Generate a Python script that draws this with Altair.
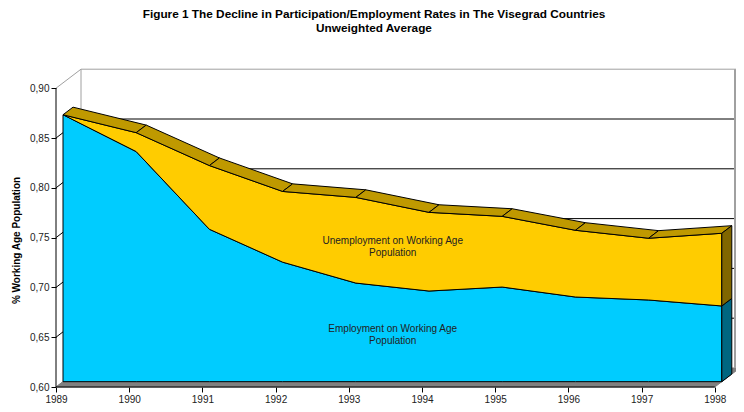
import altair as alt
import pandas as pd

years = [1989, 1990, 1991, 1992, 1993, 1994, 1995, 1996, 1997, 1998]
total_rate = [0.868, 0.850, 0.817, 0.791, 0.785, 0.770, 0.766, 0.752, 0.744, 0.749]
employment_rate = [0.868, 0.831, 0.753, 0.720, 0.699, 0.691, 0.695, 0.685, 0.682, 0.676]
y_ticks = [0.60, 0.65, 0.70, 0.75, 0.80, 0.85, 0.90]
title_lines = ["Figure 1 The Decline in Participation/Employment Rates in The Visegrad Countries",
               "Unweighted Average"]
unemp_label = ["Unemployment on Working Age", "Population"]
emp_label = ["Employment on Working Age", "Population"]

# oblique projection of the pseudo-3D box, in data units
PX_X = 73.2
PX_Y = 996.0
DX = 25 / PX_X
DY = 19 / PX_Y
D0, D1 = 0.28, 0.68
W, H = 680, 318
XMAX = 1989 + W / PX_X
YMAX = 0.60 + H / PX_Y
WALL_X = 1989 + (W - 1) / PX_X
Xs = alt.Scale(domain=[1989, XMAX], nice=False, zero=False)
Ys = alt.Scale(domain=[0.60, YMAX], nice=False, zero=False)

X_AXIS = alt.Axis(
    values=years, format="d", title=None, domain=False, grid=False, tickColor="black",
    tickSize=5, labelPadding=2, labelFontSize=10, labelFont="Liberation Sans", labelColor="#222222",
    labelOverlap=False, labelBound=False, labelFlush=False)
Y_AXIS = alt.Axis(
    values=y_ticks, title="% Working Age Population", domain=False, grid=False, tickColor="black",
    tickSize=5, labelPadding=2, labelFontSize=10, labelFont="Liberation Sans", labelColor="#222222",
    labelExpr="replace(format(datum.value,'.2f'),'.',',')", labelOverlap=False, labelBound=False,
    titleFont="Liberation Sans", titleFontSize=10, titleFontWeight="bold", titleColor="black",
    titleX=-35, titleY=171)


def p(x, y, d=0.0):
    return (x + d * DX, y + d * DY)


def enc():
    return dict(x=alt.X("x:Q", scale=Xs, axis=X_AXIS), y=alt.Y("y:Q", scale=Ys, axis=Y_AXIS),
                order="o:Q", detail="g:N")


def frame(polys):
    rows = []
    for g, pts in enumerate(polys):
        for o, (x, y) in enumerate(pts):
            rows.append({"x": x, "y": y, "o": o, "g": g})
    return pd.DataFrame(rows)


def closed(pts):
    return pts + [pts[0]]


def fill_layer(polys, fill, stroke=None, sw=1.0):
    kw = dict(fill=fill, strokeWidth=sw, clip=False)
    kw["stroke"] = stroke if stroke else fill
    return alt.Chart(frame([closed(q) for q in polys])).mark_line(**kw).encode(**enc())


def line_layer(polys, color, sw=1.0):
    return alt.Chart(frame(polys)).mark_line(color=color, strokeWidth=sw, clip=False).encode(**enc())


x0, x1 = years[0], years[-1]
floor = [p(x0, .6), p(x0, .6, 1), p(x1, .6, 1), p(x1, .6)]
wall_gray = [
    [p(x0, .9), p(x0, .9, 1), p(x1, .9, 1)],
    [p(x0, .6, 1), p(x0, .9, 1)],
    [p(x0, .6), p(x0, .6, 1)],
]
right_wall = [[(WALL_X, .6 + DY), (WALL_X, .9 + DY)]]
grid = [[p(x0, v), p(x0, v, 1), p(x1, v, 1)] for v in y_ticks[1:-1]]
axes_black = [[(x0, .6), (x0, .9)], [(x0, .6), (x1, .6)]]

emp_front = [p(a, b, D0) for a, b in zip(years, employment_rate)]
tot_front = [p(a, b, D0) for a, b in zip(years, total_rate)]
base_front = [p(a, .6, D0) for a in years]

emp_poly = emp_front + base_front[::-1]
unemp_poly = tot_front + emp_front[::-1]
ribbon = [[p(years[i], total_rate[i], D0), p(years[i + 1], total_rate[i + 1], D0),
           p(years[i + 1], total_rate[i + 1], D1), p(years[i], total_rate[i], D1)]
          for i in range(len(years) - 1)]
side_emp = [p(x1, .6, D0), p(x1, employment_rate[-1], D0), p(x1, employment_rate[-1], D1), p(x1, .6, D1)]
side_unemp = [p(x1, employment_rate[-1], D0), p(x1, total_rate[-1], D0), p(x1, total_rate[-1], D1), p(x1, employment_rate[-1], D1)]

labels = pd.DataFrame({
    "x": [1993.6, 1993.6, 1993.6, 1993.6],
    "y": [0.7466, 0.7346, 0.658, 0.646],
    "t": unemp_label + emp_label,
})
text = alt.Chart(labels).mark_text(font="Liberation Sans", fontSize=10, color="#222222",
                                   baseline="middle", align="center").encode(
    x=alt.X("x:Q", scale=Xs, axis=X_AXIS), y=alt.Y("y:Q", scale=Ys, axis=Y_AXIS), text="t:N")

chart = alt.layer(
    line_layer(wall_gray, "#A0A0A0", 1),
    line_layer(grid, "black", 1),
    fill_layer([floor], "#808080"),
    line_layer(right_wall, "#A0A0A0", 2),
    line_layer(axes_black, "black", 1),
    fill_layer([emp_poly], "#00CCFF", "black"),
    fill_layer([unemp_poly], "#FFCC00", "black"),
    fill_layer(ribbon, "#BF9900", "black"),
    fill_layer([side_emp], "#006680", "black"),
    fill_layer([side_unemp], "#806600", "black"),
    text,
).properties(
    width=W, height=H,
    autosize="none",
    padding={"left": 48, "top": 61, "right": 0, "bottom": 17},
    title=alt.TitleParams(text=title_lines, anchor="middle", font="Liberation Sans", fontSize=11.8,
                          fontWeight="bold", color="black", offset=30, dx=-22, lineHeight=14),
).configure_view(stroke=None)

chart.save("out.html", embed_options={"renderer": "svg", "actions": False})
